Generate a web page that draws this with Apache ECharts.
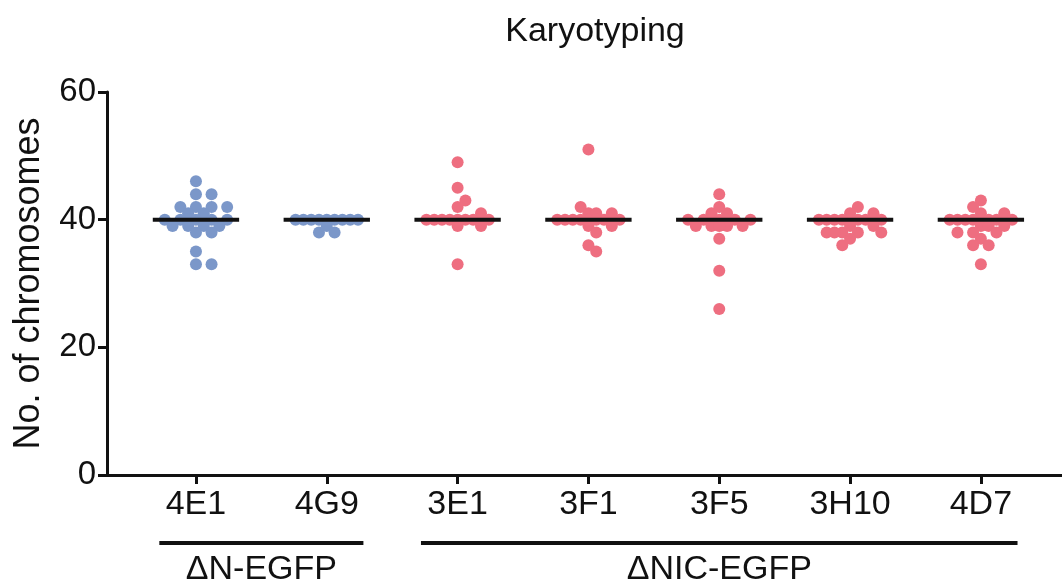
<!DOCTYPE html>
<html>
<head>
<meta charset="utf-8">
<script src="https://cdn.jsdelivr.net/npm/echarts@6/dist/echarts.min.js"></script>
<style>
html, body { margin: 0; padding: 0; background: #fff; }
#chart { width: 1062px; height: 588px; }
</style>
</head>
<body>
<div id="chart"></div>
<script>
// clones along the x axis
var clones = ['4E1', '4G9', '3E1', '3F1', '3F5', '3H10', '4D7'];
var cloneColor = ['#7b97c9', '#7b97c9', '#ee6e80', '#ee6e80', '#ee6e80', '#ee6e80', '#ee6e80'];

// chromosome counts per metaphase
var counts4E1 = [46, 44, 44, 42, 42, 42, 42, 41, 41, 40, 40, 40, 40, 40, 39, 39, 39, 39, 38, 38, 35, 33, 33];
var counts4G9 = [40, 40, 40, 40, 40, 40, 40, 40, 40, 39, 38, 38];
var counts3E1 = [49, 45, 43, 42, 41, 40, 40, 40, 40, 40, 40, 40, 40, 39, 39, 33];
var counts3F1 = [51, 42, 41, 41, 41, 40, 40, 40, 40, 40, 40, 40, 40, 39, 39, 38, 36, 35];
var counts3F5 = [44, 42, 41, 41, 40, 40, 40, 40, 40, 39, 39, 39, 39, 39, 37, 32, 26];
var counts3H10 = [42, 41, 41, 40, 40, 40, 40, 40, 40, 40, 40, 39, 39, 38, 38, 38, 38, 38, 37, 36];
var counts4D7 = [43, 42, 41, 41, 40, 40, 40, 40, 40, 40, 40, 40, 39, 39, 39, 38, 38, 38, 37, 36, 36, 33];
var allCounts = [counts4E1, counts4G9, counts3E1, counts3F1, counts3F5, counts3H10, counts4D7];

// groups under the axis: label, first clone, last clone
var groupNames = ['\u0394N-EGFP', '\u0394NIC-EGFP'];
var groupFirst = [0, 2];
var groupLast = [1, 6];

var yTicks = [0, 20, 40, 60];

// layout
var GRID = { left: 107, right: 0, top: 92, bottom: 113 };
var X_MIN = -0.68, X_MAX = 6.62;
var W = 1062, H = 588;
var pxPerX = (W - GRID.left - GRID.right) / (X_MAX - X_MIN);
var pxPerY = (H - GRID.top - GRID.bottom) / (yTicks[yTicks.length - 1] - yTicks[0]);

function median(arr) {
  var s = arr.slice().sort(function (a, b) { return a - b; });
  var n = s.length;
  return n % 2 ? s[(n - 1) / 2] : (s[n / 2 - 1] + s[n / 2]) / 2;
}

// prism-like column scatter: points snapped to a staggered grid, placed from the median outwards
function spread(values) {
  var step = 7.8, minDist = 10, maxK = 4;
  var med = median(values);
  var order = values.map(function (v, i) { return i; }).sort(function (a, b) {
    return Math.abs(values[a] - med) - Math.abs(values[b] - med) || values[b] - values[a];
  });
  var placed = [];
  var offs = new Array(values.length);
  var flip = 1;
  order.forEach(function (i) {
    var y = values[i] * pxPerY;
    var cands = [0];
    for (var k = 1; k <= maxK; k++) cands.push(flip * k * step, -flip * k * step);
    var dists = cands.map(function (x) {
      var dmin = Infinity;
      placed.forEach(function (p) {
        dmin = Math.min(dmin, Math.hypot(p.x - x, p.y - y));
      });
      return dmin;
    });
    var pick = -1;
    for (var c = 0; c < cands.length; c++) {
      if (dists[c] >= minDist) { pick = c; break; }
    }
    if (pick < 0) {
      // row is full: take the least crowded slot
      pick = 0;
      for (c = 1; c < cands.length; c++) if (dists[c] > dists[pick] + 0.01) pick = c;
    }
    flip = -flip;
    placed.push({ x: cands[pick], y: y });
    offs[i] = cands[pick] / pxPerX;
  });
  return offs;
}

var dotSeries = allCounts.map(function (vals, ci) {
  var offs = spread(vals);
  return {
    type: 'scatter',
    symbolSize: 12,
    itemStyle: { color: cloneColor[ci], opacity: 1 },
    z: 2,
    data: vals.map(function (v, i) { return [ci + offs[i], v]; })
  };
});

var medianData = allCounts.map(function (vals, ci) { return [ci, median(vals)]; });
var groupData = groupNames.map(function (g, gi) { return [groupFirst[gi], groupLast[gi], gi]; });

var chart = echarts.init(document.getElementById('chart'));
var font = 'Liberation Sans, Arial, sans-serif';

chart.setOption({
  animation: false,
  backgroundColor: '#fff',
  title: {
    text: 'Karyotyping',
    left: 590,
    top: 10,
    textAlign: 'center',
    textStyle: { fontFamily: font, fontSize: 34, fontWeight: 'normal', color: '#111' }
  },
  grid: GRID,
  xAxis: {
    type: 'value',
    min: X_MIN,
    max: X_MAX,
    splitLine: { show: false },
    axisLine: { onZero: false, lineStyle: { color: '#111', width: 3 } },
    axisTick: { customValues: [0, 1, 2, 3, 4, 5, 6], length: 9, lineStyle: { color: '#111', width: 3 } },
    axisLabel: {
      customValues: [0, 1, 2, 3, 4, 5, 6],
      formatter: function (v) { return clones[Math.round(v)]; },
      margin: 13,
      fontFamily: font, fontSize: 34, color: '#111'
    }
  },
  yAxis: {
    type: 'value',
    min: 0,
    max: 60,
    interval: 20,
    name: 'No. of chromosomes',
    nameLocation: 'middle',
    nameRotate: 90,
    nameGap: 60,
    nameTextStyle: { fontFamily: font, fontSize: 36, color: '#111' },
    splitLine: { show: false },
    axisLine: { show: true, onZero: false, lineStyle: { color: '#111', width: 3 } },
    axisTick: { show: true, length: 9, lineStyle: { color: '#111', width: 3 } },
    axisLabel: { margin: 11, fontFamily: font, fontSize: 33, color: '#111' }
  },
  series: dotSeries.concat([
    {
      type: 'custom',
      z: 5,
      data: medianData,
      renderItem: function (params, api) {
        var a = api.coord([api.value(0) - 0.33, api.value(1)]);
        var b = api.coord([api.value(0) + 0.33, api.value(1)]);
        return {
          type: 'line',
          shape: { x1: a[0], y1: a[1], x2: b[0], y2: b[1] },
          style: { stroke: '#111', lineWidth: 4 }
        };
      }
    },
    {
      type: 'custom',
      clip: false,
      silent: true,
      data: groupData,
      renderItem: function (params, api) {
        var a = api.coord([api.value(0) - 0.28, 0]);
        var b = api.coord([api.value(1) + 0.28, 0]);
        var y = a[1] + 68;
        return {
          type: 'group',
          children: [
            { type: 'line', shape: { x1: a[0], y1: y, x2: b[0], y2: y }, style: { stroke: '#111', lineWidth: 4 } },
            {
              type: 'text',
              style: {
                text: groupNames[api.value(2)],
                x: (a[0] + b[0]) / 2, y: y + 10,
                align: 'center', verticalAlign: 'top',
                font: '34px ' + font, fill: '#111'
              }
            }
          ]
        };
      }
    }
  ])
});
</script>
</body>
</html>
